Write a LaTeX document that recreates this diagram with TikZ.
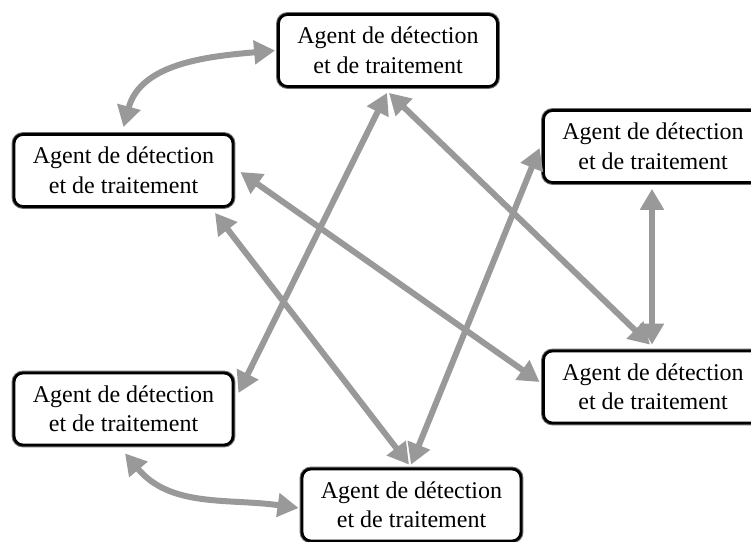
\documentclass[tikz,border=0pt]{standalone}
\usepackage{fontspec}
\setmainfont{Liberation Serif}
\usetikzlibrary{arrows.meta}
\definecolor{arrowgray}{RGB}{153,153,153}
\definecolor{halo}{RGB}{110,110,110}
\begin{document}
\begin{tikzpicture}[x=1pt,y=1pt,
  agent/.style={draw=black, line width=2.8pt, rounded corners=9pt, fill=white,
    minimum width=219pt, minimum height=72pt, inner sep=0pt, align=center,
    font=\fontsize{24}{29.5}\selectfont,
    preaction={draw=halo, line width=4.8pt, fill=white}},
  link/.style={draw=arrowgray, line width=6pt,
    {Triangle[width=23pt,length=21pt]}-{Triangle[width=23pt,length=21pt]}}]
\fill[white] (0,0) rectangle (751,541);
\useasboundingbox (0,0) rectangle (751,541);

\node[agent] (T)  at (388,490.5) {Agent de détection\\et de traitement};
\node[agent] (LU) at (123.5,370.5) {Agent de détection\\et de traitement};
\node[agent] (RU) at (653,394.5) {Agent de détection\\et de traitement};
\node[agent] (RL) at (653,154) {Agent de détection\\et de traitement};
\node[agent] (LL) at (123.5,132) {Agent de détection\\et de traitement};
\node[agent] (B)  at (411.5,36) {Agent de détection\\et de traitement};

\draw[link] ([yshift=6pt]LU.north) to[out=75,in=185] ([xshift=-2pt]T.west);
\draw[link] ([xshift=1.5pt,yshift=-7pt]LL.south) to[out=-50,in=172] ([xshift=-2pt,yshift=-3pt]B.west);
\draw[link] ([xshift=-1pt,yshift=-5pt]RU.south) -- ([xshift=-1pt,yshift=5pt]RL.north);
\draw[link] ([xshift=-1pt,yshift=-5pt]T.south) -- ([xshift=4pt,yshift=16pt]LL.east);
\draw[link] ([xshift=1pt,yshift=-5pt]T.south) -- ([xshift=-3pt,yshift=5pt]RL.north);
\draw[link] ([xshift=6pt,yshift=-1.5pt]LU.east) -- ([xshift=-2.5pt,yshift=5pt]RL.west);
\draw[link] ([xshift=91.5pt,yshift=-5pt]LU.south) -- ([xshift=-2.5pt,yshift=3pt]B.north);
\draw[link] ([xshift=-2.5pt,yshift=-1.5pt]RU.west) -- ([xshift=-0.5pt,yshift=3pt]B.north);
\end{tikzpicture}
\end{document}
